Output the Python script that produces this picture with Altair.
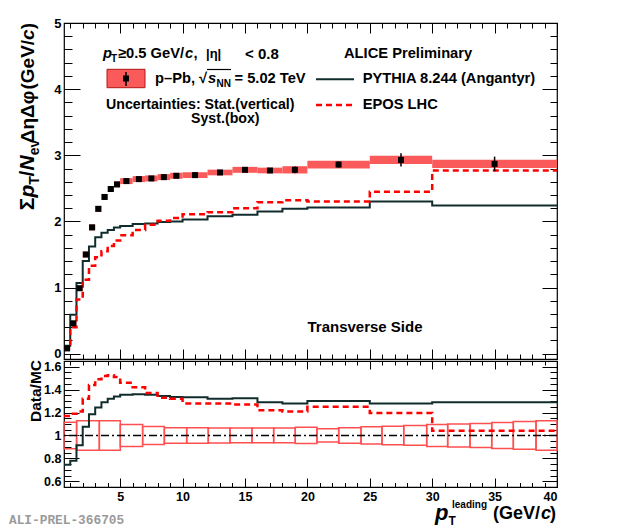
import altair as alt
import pandas as pd
import numpy as np

# ---------------- data ----------------
bin_edges = [0.5, 1, 1.5, 2, 2.5, 3, 3.5, 4, 4.5, 5, 6, 7, 8, 9, 10, 12, 14, 16, 18, 20, 25, 30, 40]
data_vals = [0.08, 0.46, 0.99, 1.50, 1.91, 2.19, 2.37, 2.49, 2.56, 2.61, 2.64,
             2.65, 2.67, 2.69, 2.70, 2.74, 2.78, 2.77, 2.78, 2.86, 2.93, 2.87]
stat_errs = [0.005, 0.008, 0.01, 0.01, 0.01, 0.01, 0.01, 0.01, 0.01, 0.01, 0.01,
             0.01, 0.012, 0.012, 0.015, 0.02, 0.025, 0.03, 0.05, 0.045, 0.10, 0.11]
syst_errs = [0.012, 0.025, 0.04, 0.045, 0.045, 0.045, 0.045, 0.045, 0.045, 0.045, 0.045,
             0.045, 0.045, 0.045, 0.045, 0.043, 0.045, 0.043, 0.055, 0.058, 0.063, 0.063]
pythia_vals = [0.12, 0.59, 1.07, 1.40, 1.62, 1.76, 1.83, 1.87, 1.91, 1.93, 1.96,
               1.97, 1.99, 2.00, 2.03, 2.08, 2.10, 2.15, 2.19, 2.21, 2.30, 2.24]
epos_vals = [0.07, 0.40, 0.82, 1.12, 1.33, 1.46, 1.55, 1.63, 1.71, 1.79, 1.87,
             1.95, 2.01, 2.05, 2.11, 2.14, 2.20, 2.29, 2.32, 2.30, 2.45, 2.77]
ratio_pythia = [0.745, 0.78, 0.914, 1.076, 1.186, 1.245, 1.29, 1.32, 1.34, 1.355, 1.36,
                1.355, 1.345, 1.335, 1.334, 1.32, 1.325, 1.29, 1.28, 1.30, 1.28, 1.29]
ratio_epos = [1.17, 1.19, 1.21, 1.32, 1.44, 1.49, 1.52, 1.525, 1.51, 1.46, 1.42,
              1.37, 1.33, 1.32, 1.28, 1.28, 1.27, 1.22, 1.21, 1.25, 1.195, 1.04]
rbox_edges = [0.5, 1.51, 3.33, 5.01, 6.8, 8.54, 10.33, 12.06, 13.8, 15.56, 17.3, 19.03,
              20.77, 22.51, 24.3, 25.98, 27.72, 29.56, 31.24, 33.03, 34.77, 36.5, 38.32, 40]
rbox_half = [0.115, 0.129, 0.129, 0.096, 0.078, 0.067, 0.067, 0.065, 0.064, 0.064, 0.064, 0.071,
             0.058, 0.067, 0.075, 0.081, 0.086, 0.096, 0.10, 0.105, 0.114, 0.121, 0.129]

x_label_vals = [5, 10, 15, 20, 25, 30, 35, 40]
x_tick_vals = list(range(1, 41))
ytop_label_vals = [0, 1, 2, 3, 4, 5]
ytop_tick_vals = [round(v, 2) for v in np.arange(0, 5.0001, 0.2)]
yrat_label_vals = [0.6, 0.8, 1.0, 1.2, 1.4, 1.6]
yrat_tick_vals = [round(v, 2) for v in np.arange(0.55, 1.6501, 0.05)]

# ---------------- tables ----------------
lo = bin_edges[:-1]
hi = bin_edges[1:]
pts = pd.DataFrame({"lo": lo, "hi": hi, "val": data_vals, "stat": stat_errs, "syst": syst_errs})
pts["x"] = (pts["lo"] + pts["hi"]) / 2
pts["slo"] = pts["val"] - pts["syst"]
pts["shi"] = pts["val"] + pts["syst"]
pts["elo"] = pts["val"] - pts["stat"]
pts["ehi"] = pts["val"] + pts["stat"]

def step_df(vals):
    return pd.DataFrame({"x": bin_edges, "y": list(vals) + [vals[-1]]})

rbox = pd.DataFrame({"lo": rbox_edges[:-1], "hi": rbox_edges[1:], "h": rbox_half})
rbox["ylo"] = 1 - rbox["h"]
rbox["yhi"] = 1 + rbox["h"]
one = pd.DataFrame({"one": [1.0]})

# ---------------- style ----------------
W, H1, H2 = 493, 336, 126
SANS = "Liberation Sans"
RED = "#fa5a5a"
PYC = "#102c2c"
xs = alt.Scale(domain=[0.5, 40], nice=False, zero=False)
ys_top = alt.Scale(domain=[-0.08, 5], nice=False, zero=False)
ys_rat = alt.Scale(domain=[0.55, 1.65], nice=False, zero=False)

def tick_axis(orient, offset, values, test, big, small):
    return alt.Axis(orient=orient, offset=offset, values=values, labels=False, domain=False,
                    grid=False, title=None, ticks=True, tickColor="black", tickWidth=1,
                    tickSize={"condition": {"test": test, "value": big}, "value": small})

def label_axis(orient, values, fmt, size, pad):
    return alt.Axis(orient=orient, values=values, format=fmt, labelFont=SANS, labelFontSize=size,
                    labelFontWeight="bold", labelColor="black", labelPadding=pad, ticks=False,
                    tickSize=0, domain=False, grid=False, title=None, labelOverlap=False)

XT = "datum.value % 5 === 0"
YT = "abs(datum.value - round(datum.value)) < 1e-6"
YR = "abs(datum.value * 5 - round(datum.value * 5)) < 1e-6"

def txt(s, x, y, size, style="normal", weight="bold", align="left", baseline="middle",
        angle=0, color="black", font=SANS):
    return alt.Chart(one).mark_text(text=s, align=align, baseline=baseline, fontSize=size,
                                    fontStyle=style, fontWeight=weight, angle=angle,
                                    color=color, font=font).encode(x=alt.value(x), y=alt.value(y))

# ---------------- top panel ----------------
syst = alt.Chart(pts).mark_rect(color=RED).encode(
    x=alt.X("lo:Q", scale=xs, axis=tick_axis("top", -H1, x_tick_vals, XT, 10, 5)),
    x2="hi:Q",
    y=alt.Y("slo:Q", scale=ys_top, axis=label_axis("left", ytop_label_vals, "d", 13, 3)),
    y2="shi:Q")
pyl = alt.Chart(step_df(pythia_vals)).mark_line(interpolate="step-after", color=PYC, strokeWidth=2).encode(
    x=alt.X("x:Q", scale=xs, axis=tick_axis("bottom", -H1, x_tick_vals, XT, 10, 5)),
    y=alt.Y("y:Q", scale=ys_top, axis=tick_axis("right", -W, ytop_tick_vals, YT, 16, 8)))
epl = alt.Chart(step_df(epos_vals)).mark_line(interpolate="step-after", color="#ff0000", strokeWidth=2.5,
                                               strokeDash=[6, 4]).encode(
    x=alt.X("x:Q", scale=xs, axis=None),
    y=alt.Y("y:Q", scale=ys_top, axis=tick_axis("left", -W, ytop_tick_vals, YT, 15, 7)))
err = alt.Chart(pts).mark_rule(color="black", strokeWidth=1.5).encode(
    x=alt.X("x:Q", scale=xs, axis=None),
    y=alt.Y("elo:Q", scale=ys_top, axis=None), y2="ehi:Q")
dots = alt.Chart(pts).mark_square(color="black", size=36, opacity=1).encode(
    x=alt.X("x:Q", scale=xs, axis=None),
    y=alt.Y("val:Q", scale=ys_top, axis=None))

LS = 14.7
leg = [
    # y axis title (rotated)
    txt(")", -36, 3.2, 19, angle=270, align="center"),
    txt("c", -36, 11.6, 19, style="italic", angle=270, align="center"),
    txt("(GeV/", -36, 41.7, 19, angle=270, align="center"),
    txt("ΔηΔφ", -36, 94, 19, angle=270, align="center"),
    txt("ev", -29.5, 124.5, 14, angle=270, align="center"),
    txt("N", -36, 140, 21, style="italic", angle=270, align="center"),
    txt("/", -36, 150.5, 21, angle=270, align="center"),
    txt("T", -29.5, 157.5, 14, angle=270, align="center"),
    txt("p", -36, 168, 21, style="italic", angle=270, align="center"),
    txt("Σ", -36, 181, 21, angle=270, align="center"),
    # header line
    txt("p", 39, 31, LS, style="italic"),
    txt("T", 47, 36, 10),
    txt("≥0.5 GeV/", 54, 31, LS),
    txt("c", 121, 31, LS, style="italic"),
    txt(",", 129.5, 31, LS),
    txt("|η|", 142, 31, 13),
    txt("< 0.8", 181, 31, 15),
    txt("ALICE Preliminary", 280, 30.7, LS),
    # legend: data
    alt.Chart(one).mark_rect(color=RED, stroke="#b01818", strokeWidth=1).encode(
        x=alt.value(43), x2=alt.value(81), y=alt.value(46.3), y2=alt.value(64.7)),
    alt.Chart(one).mark_rule(color="black", strokeWidth=1.5).encode(
        x=alt.value(62), y=alt.value(49), y2=alt.value(63)),
    alt.Chart(one).mark_square(color="black", size=36, opacity=1).encode(
        x=alt.value(62), y=alt.value(55.5)),
    txt("p–Pb, √", 91, 56.3, LS),
    txt("s", 144, 56.3, LS, style="italic"),
    txt("NN", 152.5, 61, 10),
    txt("= 5.02 TeV", 170.5, 56.3, LS),
    alt.Chart(one).mark_rule(color="black", strokeWidth=1.2).encode(
        x=alt.value(143), x2=alt.value(167), y=alt.value(46.5)),
    # legend: models
    alt.Chart(one).mark_rule(color=PYC, strokeWidth=2).encode(
        x=alt.value(252), x2=alt.value(290), y=alt.value(56.3)),
    txt("PYTHIA 8.244 (Angantyr)", 298.7, 56.3, LS),
    txt("Uncertainties: Stat.(vertical)", 42, 81.5, 14.2),
    txt("Syst.(box)", 127, 96, 14.2),
    alt.Chart(one).mark_rule(color="#ff0000", strokeWidth=2.5, strokeDash=[6, 4]).encode(
        x=alt.value(252), x2=alt.value(290), y=alt.value(82)),
    txt("EPOS LHC", 298.7, 82, LS),
    txt("Transverse Side", 301, 304, 15, align="center"),
]

top = alt.layer(syst, pyl, epl, err, dots, *leg).resolve_axis(
    x="independent", y="independent").properties(width=W, height=H1)

# ---------------- ratio panel ----------------
boxes = alt.Chart(rbox).mark_rect(filled=False, color="#ff5050", strokeWidth=1.5).encode(
    x=alt.X("lo:Q", scale=xs, axis=label_axis("bottom", x_label_vals, "d", 12.5, 3)),
    x2="hi:Q",
    y=alt.Y("ylo:Q", scale=ys_rat, axis=label_axis("left", yrat_label_vals, "~g", 12.5, 3)),
    y2="yhi:Q")
rpy = alt.Chart(step_df(ratio_pythia)).mark_line(interpolate="step-after", color=PYC, strokeWidth=2).encode(
    x=alt.X("x:Q", scale=xs, axis=tick_axis("top", -H2, x_tick_vals, XT, 9, 4.5)),
    y=alt.Y("y:Q", scale=ys_rat, axis=tick_axis("right", -W, yrat_tick_vals, YR, 15, 7)))
rep = alt.Chart(step_df(ratio_epos)).mark_line(interpolate="step-after", color="#ff0000", strokeWidth=2.5,
                                                strokeDash=[6, 4]).encode(
    x=alt.X("x:Q", scale=xs, axis=tick_axis("bottom", -H2, x_tick_vals, XT, 8, 4)),
    y=alt.Y("y:Q", scale=ys_rat, axis=tick_axis("left", -W, yrat_tick_vals, YR, 15, 7)))
unity = alt.Chart(one).mark_rule(color="black", strokeWidth=1.5, strokeDash=[8, 3, 2, 3]).encode(
    y=alt.Y("one:Q", scale=ys_rat, axis=None))

rtxt = [
    txt("Data/MC", -28, 30, 15.5, angle=270, align="center"),
    txt("p", 371, 159, 22, style="italic", baseline="alphabetic"),
    txt("T", 384.5, 164, 12, baseline="alphabetic"),
    txt("leading", 388, 147, 10, baseline="alphabetic"),
    txt("(GeV/", 429, 158, 18, baseline="alphabetic"),
    txt("c", 477, 158, 18, style="italic", baseline="alphabetic"),
    txt(")", 486, 158, 18, baseline="alphabetic"),
    txt("ALI-PREL-366705", -55, 159, 12.8, color="#9a9a9a", font="Liberation Mono"),
]

bottom = alt.layer(boxes, rpy, rep, unity, *rtxt).resolve_axis(
    x="independent", y="independent").properties(width=W, height=H2)

chart = alt.vconcat(top, bottom, spacing=2, bounds="flush").properties(
    padding={"left": 0, "top": 8, "right": 5, "bottom": 3}
).configure_view(stroke="black", strokeWidth=1.2).configure_axis(grid=False)

chart.save("out.html", embed_options={"renderer": "svg", "actions": False})
